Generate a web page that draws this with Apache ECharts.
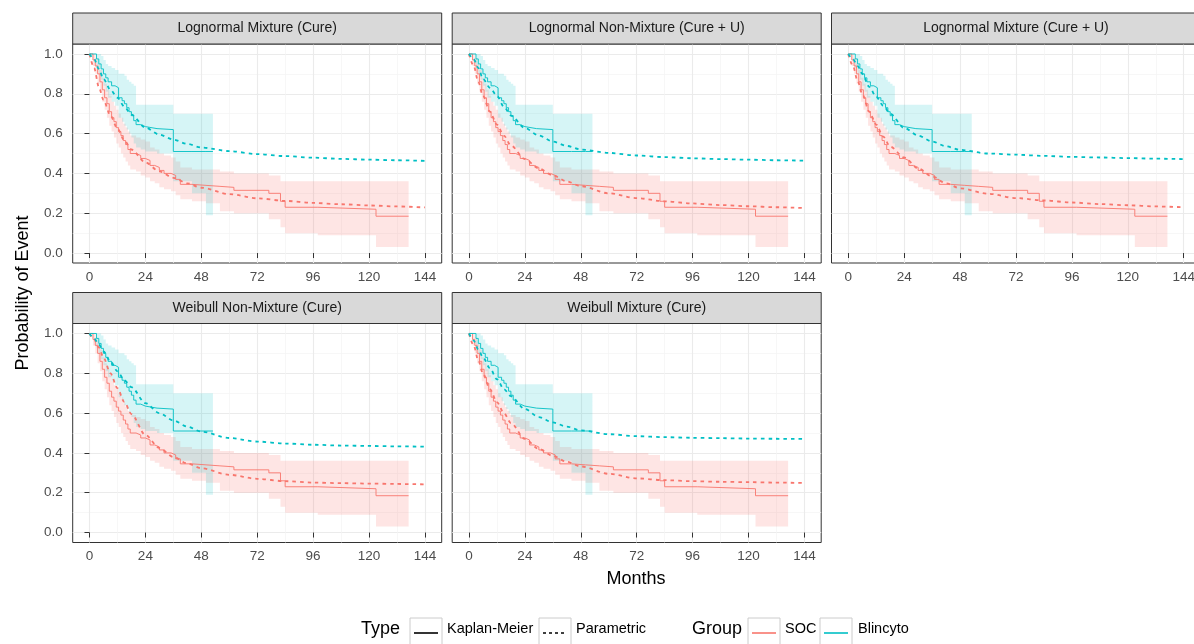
<!DOCTYPE html>
<html><head><meta charset="utf-8">
<script src="https://cdn.jsdelivr.net/npm/echarts@6/dist/echarts.min.js"></script>
<style>html,body{margin:0;padding:0;background:#fff}#c{width:1194px;height:644px}</style>
</head><body><div id="c"></div>
<script>
// ---------- data ----------
const panelTitles = ['Lognormal Mixture (Cure)', 'Lognormal Non-Mixture (Cure + U)', 'Lognormal Mixture (Cure + U)', 'Weibull Non-Mixture (Cure)', 'Weibull Mixture (Cure)'];
const monthTicks = [0, 24, 48, 72, 96, 120, 144];
const monthMinor = [12, 36, 60, 84, 108, 132];
const probTicks = [0, 0.2, 0.4, 0.6, 0.8, 1.0];
const probMinor = [0.1, 0.3, 0.5, 0.7, 0.9];
const groupNames = ['SOC', 'Blincyto'];
const typeNames = ['Kaplan-Meier', 'Parametric'];

// Kaplan-Meier, SOC
const socTime  = [0, 1.5, 2.5, 3.5, 4.5, 5.5, 6.5, 7.5, 8.5, 9.5, 10.5, 11.5, 12.5, 13.5, 14.5, 15.5, 16.5, 17.5, 20, 22, 24, 26, 28, 30, 32, 35, 37, 39, 44, 50, 56, 62, 77, 82, 84, 98, 123, 137];
const socSurv  = [1.0, 0.97, 0.94, 0.9, 0.86, 0.82, 0.78, 0.75, 0.71, 0.68, 0.66, 0.63, 0.61, 0.59, 0.565, 0.545, 0.52, 0.5, 0.49, 0.475, 0.465, 0.44, 0.43, 0.415, 0.4, 0.39, 0.37, 0.345, 0.34, 0.335, 0.33, 0.315, 0.30, 0.26, 0.23, 0.22, 0.185, 0.185];
const socLower = [1.0, 0.94, 0.9, 0.85, 0.81, 0.76, 0.72, 0.68, 0.64, 0.61, 0.58, 0.55, 0.53, 0.5, 0.48, 0.46, 0.44, 0.42, 0.41, 0.39, 0.38, 0.36, 0.35, 0.33, 0.32, 0.31, 0.29, 0.27, 0.26, 0.25, 0.21, 0.2, 0.17, 0.13, 0.10, 0.09, 0.03, 0.03];
const socUpper = [1.0, 1.0, 0.98, 0.95, 0.92, 0.88, 0.85, 0.82, 0.79, 0.76, 0.74, 0.72, 0.70, 0.68, 0.65, 0.63, 0.61, 0.59, 0.58, 0.57, 0.56, 0.53, 0.52, 0.50, 0.49, 0.48, 0.46, 0.43, 0.42, 0.42, 0.41, 0.40, 0.39, 0.36, 0.36, 0.36, 0.36, 0.36];

// Kaplan-Meier, Blincyto
const blinTime  = [0, 3, 4, 5, 6, 7, 8, 9.5, 11, 12.5, 14, 15, 16, 17, 18, 19, 20, 22, 24, 29, 36, 44, 50, 53];
const blinSurv  = [1.0, 0.975, 0.95, 0.925, 0.9, 0.88, 0.86, 0.84, 0.83, 0.78, 0.765, 0.75, 0.73, 0.71, 0.69, 0.665, 0.645, 0.635, 0.625, 0.62, 0.51, 0.51, 0.51, 0.51];
const blinLower = [1.0, 0.93, 0.9, 0.87, 0.84, 0.81, 0.78, 0.76, 0.74, 0.68, 0.66, 0.64, 0.62, 0.6, 0.58, 0.55, 0.53, 0.52, 0.51, 0.5, 0.36, 0.3, 0.19, 0.19];
const blinUpper = [1.0, 1.0, 1.0, 0.99, 0.97, 0.95, 0.94, 0.93, 0.92, 0.9, 0.9, 0.89, 0.87, 0.86, 0.85, 0.84, 0.745, 0.745, 0.745, 0.745, 0.70, 0.70, 0.70, 0.70];

// Parametric fits (months below, one array per panel and group)
const paramMonths = [0, 2, 4, 6, 9, 12, 15, 18, 24, 30, 36, 42, 48, 60, 72, 84, 96, 108, 120, 132, 144];
const socParam1  = [1.0, 0.93, 0.835, 0.77, 0.69, 0.625, 0.565, 0.52, 0.455, 0.41, 0.378, 0.35, 0.328, 0.296, 0.275, 0.262, 0.252, 0.245, 0.239, 0.234, 0.229];
const blinParam1 = [1.0, 0.975, 0.925, 0.875, 0.82, 0.78, 0.735, 0.695, 0.63, 0.595, 0.57, 0.548, 0.53, 0.512, 0.497, 0.487, 0.479, 0.473, 0.469, 0.466, 0.463];
const socParam2  = [1.0, 0.94, 0.86, 0.79, 0.71, 0.645, 0.59, 0.54, 0.472, 0.425, 0.39, 0.36, 0.336, 0.30, 0.276, 0.26, 0.249, 0.241, 0.235, 0.23, 0.226];
const blinParam2 = [1.0, 0.975, 0.93, 0.875, 0.83, 0.79, 0.735, 0.69, 0.628, 0.59, 0.56, 0.538, 0.52, 0.503, 0.49, 0.482, 0.476, 0.472, 0.469, 0.466, 0.464];
const socParam3  = [1.0, 0.94, 0.865, 0.8, 0.71, 0.645, 0.585, 0.535, 0.48, 0.425, 0.385, 0.35, 0.325, 0.298, 0.276, 0.264, 0.254, 0.246, 0.24, 0.234, 0.23];
const blinParam3 = [1.0, 0.975, 0.94, 0.9, 0.835, 0.785, 0.74, 0.7, 0.628, 0.59, 0.56, 0.536, 0.518, 0.5, 0.494, 0.488, 0.483, 0.48, 0.477, 0.474, 0.472];
const socParam4  = [1.0, 0.97, 0.93, 0.88, 0.8, 0.725, 0.655, 0.595, 0.49, 0.425, 0.38, 0.347, 0.323, 0.29, 0.27, 0.258, 0.251, 0.248, 0.246, 0.244, 0.242];
const blinParam4 = [1.0, 0.975, 0.945, 0.91, 0.86, 0.81, 0.765, 0.73, 0.65, 0.6, 0.563, 0.532, 0.507, 0.475, 0.457, 0.447, 0.441, 0.437, 0.435, 0.433, 0.431];
const socParam5  = [1.0, 0.94, 0.865, 0.8, 0.72, 0.655, 0.6, 0.55, 0.47, 0.42, 0.385, 0.355, 0.332, 0.295, 0.272, 0.263, 0.258, 0.255, 0.253, 0.251, 0.249];
const blinParam5 = [1.0, 0.965, 0.92, 0.88, 0.825, 0.77, 0.72, 0.685, 0.62, 0.58, 0.553, 0.532, 0.513, 0.494, 0.484, 0.479, 0.476, 0.474, 0.472, 0.471, 0.47];

const socParams = [socParam1, socParam2, socParam3, socParam4, socParam5];
const blinParams = [blinParam1, blinParam2, blinParam3, blinParam4, blinParam5];

// ---------- layout / style ----------
const FONT = "'Liberation Sans', Arial, Helvetica, sans-serif";
const RED = '#F8766D', CYAN = '#00BFC4';
const COL_LEFT = [72.7, 452.2, 831.5];
const ROW_TOP = [44, 323.5];
const PW = 369, PH = 219, STRIP_H = 31;
const panelPos = [[0, 0], [0, 1], [0, 2], [1, 0], [1, 1]];

const grids = [], xAxes = [], yAxes = [], series = [], graphics = [];

function pairs(xs, ys) { return xs.map((x, i) => [x, ys[i]]); }

function ribbon(gi, time, lo, hi, color) {
  return {
    type: 'custom', xAxisIndex: gi * 2, yAxisIndex: gi * 2, z: 2, silent: true,
    clip: true,
    data: time.map((t, i) => [t, lo[i], hi[i]]),
    encode: { x: 0, y: [1, 2] },
    renderItem: function (params, api) {
      if (params.dataIndex !== 0) return null;
      const pts = [];
      const n = time.length;
      for (let i = 0; i < n; i++) {
        const tn = i < n - 1 ? time[i + 1] : time[i];
        pts.push(api.coord([time[i], hi[i]]));
        pts.push(api.coord([tn, hi[i]]));
      }
      for (let i = n - 1; i >= 0; i--) {
        const tn = i < n - 1 ? time[i + 1] : time[i];
        pts.push(api.coord([tn, lo[i]]));
        pts.push(api.coord([time[i], lo[i]]));
      }
      return { type: 'polygon', shape: { points: pts }, style: { fill: color } };
    }
  };
}

panelPos.forEach(([r, c], gi) => {
  const left = COL_LEFT[c], top = ROW_TOP[r];
  const showY = c === 0;
  grids.push({ left: left, top: top, width: PW, height: PH, show: true, backgroundColor: '#fff',
    borderColor: '#333333', borderWidth: 1, containLabel: false, outerBoundsMode: 'none' });
  // major x
  xAxes.push({ type: 'value', gridIndex: gi, min: -7.2, max: 151.2, position: 'bottom',
    axisLine: { show: false },
    axisTick: { show: true, customValues: monthTicks, length: 5, lineStyle: { color: '#333', width: 1 } },
    axisLabel: { show: true, customValues: monthTicks, margin: 7, color: '#4d4d4d', fontSize: 13.5, fontFamily: FONT },
    splitLine: { show: true, lineStyle: { color: '#ebebeb', width: 1.1 } } });
  // minor x
  xAxes.push({ type: 'value', gridIndex: gi, min: -7.2, max: 151.2, position: 'top',
    axisLine: { show: false },
    axisTick: { show: false, customValues: monthMinor },
    axisLabel: { show: false, customValues: monthMinor },
    splitLine: { show: true, lineStyle: { color: '#f4f4f4', width: 0.7 } } });
  // major y
  yAxes.push({ type: 'value', gridIndex: gi, min: -0.05, max: 1.05, position: 'left',
    axisLine: { show: false },
    axisTick: { show: showY, customValues: probTicks, length: 5, lineStyle: { color: '#333', width: 1 } },
    axisLabel: { show: showY, customValues: probTicks, margin: 10, color: '#4d4d4d', fontSize: 13.5, fontFamily: FONT,
      formatter: v => Number(v).toFixed(1) },
    splitLine: { show: true, lineStyle: { color: '#ebebeb', width: 1.1 } } });
  // minor y
  yAxes.push({ type: 'value', gridIndex: gi, min: -0.05, max: 1.05, position: 'right',
    axisLine: { show: false },
    axisTick: { show: false, customValues: probMinor },
    axisLabel: { show: false, customValues: probMinor },
    splitLine: { show: true, lineStyle: { color: '#f4f4f4', width: 0.7 } } });

  // ribbons
  series.push(ribbon(gi, socTime, socLower, socUpper, 'rgba(248,118,109,0.19)'));
  series.push(ribbon(gi, blinTime, blinLower, blinUpper, 'rgba(0,191,196,0.16)'));
  // KM
  series.push({ type: 'line', name: groupNames[0] + ' KM', xAxisIndex: gi * 2, yAxisIndex: gi * 2, z: 3,
    data: pairs(socTime, socSurv), step: 'end', showSymbol: false, symbol: 'none', silent: true,
    lineStyle: { color: RED, width: 0.9 } });
  series.push({ type: 'line', name: groupNames[1] + ' KM', xAxisIndex: gi * 2, yAxisIndex: gi * 2, z: 3,
    data: pairs(blinTime, blinSurv), step: 'end', showSymbol: false, symbol: 'none', silent: true,
    lineStyle: { color: CYAN, width: 0.9 } });
  // parametric
  series.push({ type: 'line', name: groupNames[0] + ' Param', xAxisIndex: gi * 2, yAxisIndex: gi * 2, z: 4,
    data: pairs(paramMonths, socParams[gi]), smooth: 0.3, smoothMonotone: 'x', showSymbol: false, symbol: 'none', silent: true,
    lineStyle: { color: RED, width: 1.8, type: [3.5, 4] } });
  series.push({ type: 'line', name: groupNames[1] + ' Param', xAxisIndex: gi * 2, yAxisIndex: gi * 2, z: 4,
    data: pairs(paramMonths, blinParams[gi]), smooth: 0.3, smoothMonotone: 'x', showSymbol: false, symbol: 'none', silent: true,
    lineStyle: { color: CYAN, width: 1.8, type: [3.5, 4] } });

  // strip
  graphics.push({ type: 'rect', z: 10, shape: { x: left, y: top - STRIP_H, width: PW, height: STRIP_H },
    style: { fill: '#d9d9d9', stroke: '#333333', lineWidth: 1 } });
  graphics.push({ type: 'text', z: 11, x: left + PW / 2, y: top - STRIP_H / 2,
    style: { text: panelTitles[gi], fill: '#1a1a1a', font: '14px ' + FONT, align: 'center', verticalAlign: 'middle' } });
});

// axis titles
graphics.push({ type: 'text', z: 11, x: 636, y: 579,
  style: { text: 'Months', fill: '#000', font: '18px ' + FONT, align: 'center', verticalAlign: 'middle' } });
graphics.push({ type: 'text', z: 11, x: 23, y: 293, rotation: Math.PI / 2,
  style: { text: 'Probability of Event', fill: '#000', font: '18px ' + FONT, align: 'center', verticalAlign: 'middle' } });

// legend
const LY = 633, KEY_W = 32, KEY_H = 30, KEY_TOP = 618;
function legendKey(x, color, dash) {
  graphics.push({ type: 'rect', z: 11, shape: { x: x, y: KEY_TOP, width: KEY_W, height: KEY_H },
    style: { fill: '#fff', stroke: '#cccccc', lineWidth: 1 } });
  graphics.push({ type: 'line', z: 12, shape: { x1: x + 4, y1: LY, x2: x + KEY_W - 4, y2: LY },
    style: { stroke: color, lineWidth: 1.6, lineDash: dash ? [3, 3] : null } });
}
function legendText(x, text, size) {
  graphics.push({ type: 'text', z: 12, x: x, y: 629,
    style: { text: text, fill: '#000', font: size + 'px ' + FONT, align: 'left', verticalAlign: 'middle' } });
}
legendText(361, 'Type', 18);
legendKey(410, '#000', false);
legendText(447, typeNames[0], 14.5);
legendKey(539, '#000', true);
legendText(576, typeNames[1], 14.5);
legendText(692, 'Group', 18);
legendKey(748, RED, false);
legendText(785, groupNames[0], 14.5);
legendKey(820, CYAN, false);
legendText(858, groupNames[1], 14.5);

const chart = echarts.init(document.getElementById('c'), null, { renderer: 'canvas' });
chart.setOption({
  animation: false,
  backgroundColor: '#fff',
  grid: grids, xAxis: xAxes, yAxis: yAxes, series: series, graphic: graphics
});
</script></body></html>
